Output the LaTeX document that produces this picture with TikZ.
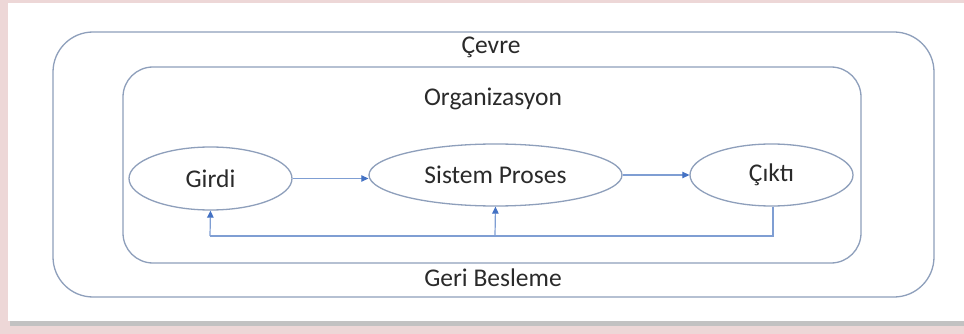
\documentclass[tikz,border=0pt]{standalone}
\usepackage{fontspec}
\setmainfont{Carlito}
\usetikzlibrary{arrows.meta,shapes.geometric}
\definecolor{bgpink}{HTML}{EDD7D7}
\definecolor{shade}{HTML}{9A9A9A}
\definecolor{frame}{HTML}{8E9FBB}
\definecolor{conn}{HTML}{7F9ED3}
\definecolor{tip}{HTML}{4472C4}
\definecolor{txt}{HTML}{2A2A2A}
\begin{document}
\begin{tikzpicture}[x=1pt,y=-1pt,
  box/.style={draw=frame,line width=1.3pt},
  oval/.style={draw=frame,line width=1.3pt,ellipse,fill=white},
  lbl/.style={text=txt,font=\fontsize{25.5}{30}\selectfont,inner sep=0pt},
  conline/.style={draw=conn,line width=1.2pt},
  arr/.style={conline,-{Triangle[length=7pt,width=6.5pt,fill=tip,color=tip]}}]
\useasboundingbox (0,0) rectangle (964,334);
\fill[bgpink] (0,0) rectangle (964,334);
\fill[shade!60] (10,6) rectangle (964,326);
\fill[white] (8,3) rectangle (964,321);
\draw[box,rounded corners=40pt] (53,32) rectangle (934,297);
\draw[box,rounded corners=30pt] (123,67) rectangle (861,263);
\node[lbl] (cevre) at (491,47) {Çevre};
\node[lbl] (org) at (493,99) {Organizasyon};
\node[lbl] (geri) at (493,278) {Geri Besleme};
\node[oval,minimum width=163pt,minimum height=63pt,inner sep=0pt] (girdi) at (210.5,178.5) {};
\node[lbl] at (girdi) {Girdi};
\node[oval,minimum width=253pt,minimum height=62pt,inner sep=0pt] (sis) at (495.5,175) {};
\node[lbl] at (sis) {Sistem Proses};
\node[oval,minimum width=163pt,minimum height=62pt,inner sep=0pt] (cikti) at (771.5,175) {};
\node[lbl] at (cikti) {Çıktı};
\coordinate (fbR) at (773,236);
\coordinate (fbL) at (210,236);
\coordinate (fbM) at (495,236);
\draw[arr] (girdi.east) -- (sis.west |- girdi.east);
\draw[arr] (sis.east) -- (cikti.west);
\draw[conline] (cikti.south -| fbR) -- (fbR) -- (fbL);
\draw[arr] (fbL) -- (girdi.south);
\draw[arr] (fbM) -- (sis.south);
\end{tikzpicture}
\end{document}
